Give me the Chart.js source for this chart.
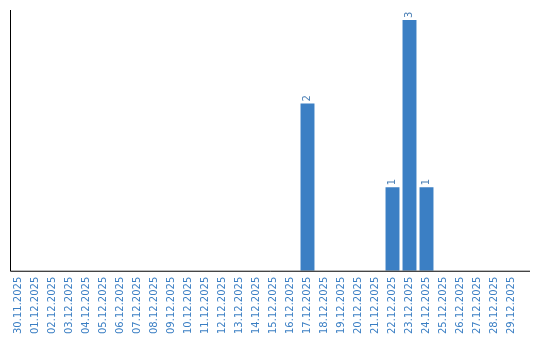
<!DOCTYPE html>
<html>
<head>
<meta charset="utf-8">
<script src="https://cdn.jsdelivr.net/npm/chart.js@4"></script>
<style>
  html, body { margin: 0; padding: 0; background: #fff; }
  #wrap { width: 540px; height: 340px; }
</style>
</head>
<body>
<div id="wrap"><canvas id="chart"></canvas></div>
<script>
// dates shown on the x axis
const days = [
  '30.11.2025', '01.12.2025', '02.12.2025', '03.12.2025', '04.12.2025', '05.12.2025',
  '06.12.2025', '07.12.2025', '08.12.2025', '09.12.2025', '10.12.2025', '11.12.2025',
  '12.12.2025', '13.12.2025', '14.12.2025', '15.12.2025', '16.12.2025', '17.12.2025',
  '18.12.2025', '19.12.2025', '20.12.2025', '21.12.2025', '22.12.2025', '23.12.2025',
  '24.12.2025', '25.12.2025', '26.12.2025', '27.12.2025', '28.12.2025', '29.12.2025'
]
const counts = [
  0, 0, 0, 0, 0, 0,
  0, 0, 0, 0, 0, 0,
  0, 0, 0, 0, 0, 2,
  0, 0, 0, 0, 1, 3,
  1, 0, 0, 0, 0, 0
]

const blue = '#3b7fc4'

// value above each bar, written bottom-to-top
const barValues = {
  id: 'barValues',
  afterDatasetsDraw(chart) {
    const ctx = chart.ctx
    const meta = chart.getDatasetMeta(0)
    ctx.save()
    ctx.font = '10px "DejaVu Sans"'
    ctx.fillStyle = '#4a7fb5'
    ctx.textAlign = 'left'
    ctx.textBaseline = 'middle'
    meta.data.forEach((bar, i) => {
      if (!counts[i]) return
      ctx.save()
      ctx.translate(bar.x, bar.y - 2)
      ctx.rotate(-Math.PI / 2)
      ctx.fillText(String(counts[i]), 0, 0)
      ctx.restore()
    })
    ctx.restore()
  }
}

// axis lines; the bottom one runs a bit past the last category
const axisLines = {
  id: 'axisLines',
  afterDraw(chart) {
    const a = chart.chartArea
    const ctx = chart.ctx
    ctx.save()
    ctx.strokeStyle = '#000'
    ctx.lineWidth = 1
    ctx.beginPath()
    ctx.moveTo(a.left + 0.5, a.top)
    ctx.lineTo(a.left + 0.5, a.bottom + 0.5)
    ctx.lineTo(a.right + 10, a.bottom + 0.5)
    ctx.stroke()
    ctx.restore()
  }
}

new Chart(document.getElementById('chart'), {
  type: 'bar',
  data: {
    labels: days,
    datasets: [{
      data: counts,
      backgroundColor: blue,
      borderWidth: 0,
      barPercentage: 0.82,
      categoryPercentage: 1
    }]
  },
  options: {
    responsive: true,
    maintainAspectRatio: false,
    animation: false,
    layout: { padding: { left: 10, right: 20, top: 10, bottom: 0 } },
    plugins: {
      legend: { display: false },
      tooltip: { enabled: false }
    },
    scales: {
      x: {
        grid: { display: false, drawTicks: false },
        border: { display: false },
        ticks: {
          color: blue,
          font: { family: 'DejaVu Sans', size: 10 },
          minRotation: 90,
          maxRotation: 90,
          autoSkip: false,
          padding: 6
        }
      },
      y: {
        min: 0,
        max: 3.12,
        grid: { display: false, drawTicks: false },
        border: { display: false },
        ticks: { display: false }
      }
    }
  },
  plugins: [barValues, axisLines]
})
</script>
</body>
</html>
